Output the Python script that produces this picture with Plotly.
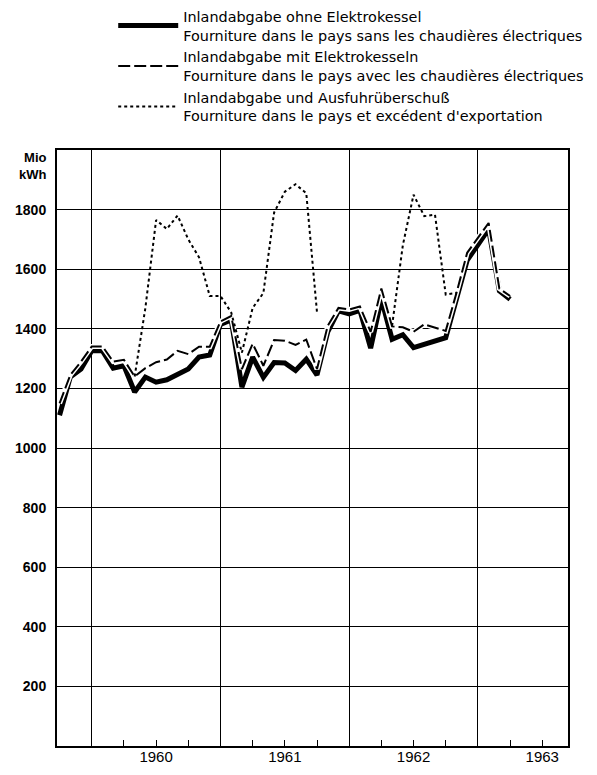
import plotly.graph_objects as go

# Month index: 0 = January 1960 (year boundary lines at 0, 12, 24, 36)
months = list(range(-3, 40))

# Inlandabgabe ohne Elektrokessel (Mio kWh)
ohne = [1110, 1238, 1265, 1326, 1326, 1268, 1276, 1188, 1238, 1221, 1229, 1248,
        1265, 1305, 1312, 1415, 1430, 1204, 1305, 1237, 1287, 1285, 1260, 1298,
        1245, 1390, 1460, 1450, 1462, 1335, 1500, 1365, 1380, 1337, 1347, 1358,
        1370, 1500, 1630, 1682, 1735, 1527, 1499]

# Inlandabgabe mit Elektrokesseln (Mio kWh)
mit = [1150, 1245, 1290, 1341, 1341, 1290, 1296, 1240, 1268, 1288, 1297, 1326,
       1315, 1340, 1340, 1425, 1443, 1265, 1350, 1276, 1362, 1360, 1346, 1364,
       1265, 1410, 1470, 1465, 1475, 1390, 1535, 1408, 1405, 1390, 1415, 1405,
       1393, 1520, 1655, 1705, 1755, 1535, 1510]

# Inlandabgabe und Ausfuhrüberschuß (Mio kWh); None = not drawn
export = [None, None, None, None, None, None, None, 1240, 1470, 1765, 1735, 1780,
          1700, 1640, 1510, 1510, 1455, 1320, 1470, 1520, 1790, 1860, 1885, 1855,
          1455, None, None, None, None, None, None, 1410, 1680, 1850, 1778, 1783,
          1515, 1520, None, None, None, None, None]

year_ticks = [6, 18, 30, 42]
year_labels = ["1960", "1961", "1962", "1963"]
year_bounds = [0, 12, 24, 36]
quarter_ticks = [3, 6, 9, 15, 18, 21, 27, 30, 33, 39, 42]
y_ticks = [200, 400, 600, 800, 1000, 1200, 1400, 1600, 1800]

names = [
    "Inlandabgabe ohne Elektrokessel<br>Fourniture dans le pays sans les chaudières électriques",
    "Inlandabgabe mit Elektrokesseln<br>Fourniture dans le pays avec les chaudières électriques",
    "Inlandabgabe und Ausfuhrüberschuß<br>Fourniture dans le pays et excédent d'exportation",
]

FONT = "Liberation Sans, Arial, Helvetica, sans-serif"
LEGEND_FONT = "DejaVu Sans, Liberation Sans, sans-serif"

fig = go.Figure()
fig.add_trace(go.Scatter(x=months, y=ohne, mode="lines", name=names[0],
                         line=dict(color="black", width=5)))
fig.add_trace(go.Scatter(x=months, y=mit, mode="lines", showlegend=False,
                         hoverinfo="skip", line=dict(color="white", width=5)))
fig.add_trace(go.Scatter(x=months, y=mit, mode="lines", name=names[1],
                         line=dict(color="black", width=2, dash="12px,4px")))
fig.add_trace(go.Scatter(x=months, y=export, mode="lines", name=names[2],
                         connectgaps=False,
                         line=dict(color="black", width=2, dash="3px,3px")))

# invisible trace to carry the year labels on a second x axis
fig.add_trace(go.Scatter(x=[months[0]], y=[None], xaxis="x2", showlegend=False,
                         hoverinfo="skip", mode="lines"))

fig.update_layout(
    width=589, height=767,
    margin=dict(l=49, r=29, t=142, b=29, autoexpand=False),
    paper_bgcolor="white", plot_bgcolor="white",
    font=dict(family=FONT, color="black", size=13),
    showlegend=True,
    legend=dict(x=0.11, y=1.251, xanchor="left", yanchor="top",
                font=dict(family=LEGEND_FONT, size=14.4, color="black"),
                itemwidth=60, bgcolor="rgba(0,0,0,0)", tracegroupgap=4),
    xaxis=dict(range=[-3.24, 44.4], tickmode="array", tickvals=year_bounds,
               ticktext=["", "", "", ""], ticks="", showgrid=True,
               gridcolor="black", gridwidth=1, zeroline=False, automargin=False,
               showline=True, linecolor="black", linewidth=2, mirror=True,
               minor=dict(tickmode="array", tickvals=quarter_ticks, ticks="inside",
                          ticklen=6, tickcolor="black", tickwidth=1, showgrid=False)),
    xaxis2=dict(overlaying="x", matches="x", anchor="y", side="bottom",
                tickmode="array", tickvals=year_ticks, ticktext=year_labels,
                ticks="", showgrid=False, zeroline=False, showline=False,
                automargin=False,
                tickfont=dict(family=FONT, size=15, color="black")),
    yaxis=dict(range=[0, 2000], tickmode="array", tickvals=y_ticks, ticks="",
               showgrid=True, gridcolor="black", gridwidth=1, zeroline=False,
               showline=True, linecolor="black", linewidth=2, mirror=True,
               ticklabelstandoff=6, automargin=False,
               tickfont=dict(family=FONT, size=14, color="black", weight="bold")),
    annotations=[dict(text="Mio<br>kWh", xref="paper", yref="paper", x=0, y=1.0,
                      xanchor="right", yanchor="top", xshift=-8, yshift=2,
                      align="right", showarrow=False,
                      font=dict(family=FONT, size=13, color="black", weight="bold"))],
)

fig.write_html("out.html")
